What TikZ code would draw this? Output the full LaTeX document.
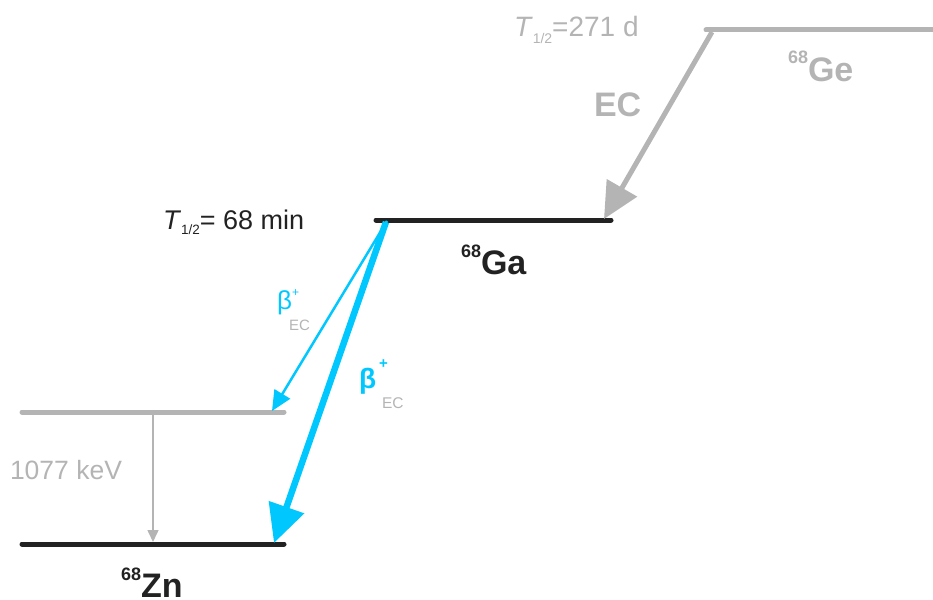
\documentclass[tikz,border=0pt]{standalone}
\usepackage{fontspec}
\usepackage{graphicx}
\setmainfont{Liberation Sans}
\usetikzlibrary{arrows.meta}
\definecolor{lvgray}{RGB}{180,180,180}
\definecolor{lvblack}{RGB}{34,34,34}
\definecolor{cyanb}{RGB}{0,200,255}
\newcommand{\fs}[1]{\fontsize{#1pt}{#1pt}\selectfont}
\newcommand{\halflife}[1]{\textit{T}\raisebox{-0.22em}{\scalebox{0.5}{1/2}}#1}
\newcommand{\iso}[3]{{\fs{#2}\raisebox{#3pt}{#1}}}
\begin{document}
\begin{tikzpicture}[x=1pt,y=-1pt,
  lvl/.style={line width=5pt, line cap=round},
  lbl/.style={anchor=base west, inner sep=0pt, outer sep=0pt}]
\useasboundingbox (0,0) rectangle (933,599);
% level endpoints
\coordinate (geL) at (706,30);  \coordinate (geR) at (936,30);
\coordinate (gaL) at (376,220); \coordinate (gaR) at (611,220);
\coordinate (znxL) at (22,412); \coordinate (znxR) at (284,412);
\coordinate (znL) at (22,544);  \coordinate (znR) at (284,544);
% arrow endpoints
\coordinate (ecS) at (712,32);  \coordinate (ecE) at (604,219);
\coordinate (b1S) at (387,221); \coordinate (b1E) at (272,411);
\coordinate (b2S) at (386,222); \coordinate (b2E) at (274,543);
\coordinate (gS) at (153,413);  \coordinate (gE) at (153,542);
% levels
\draw[lvl, lvgray] (geL) -- (geR);
\draw[lvl, lvblack] (gaL) -- (gaR);
\draw[lvl, lvgray] (znxL) -- (znxR);
\draw[lvl, lvblack] (znL) -- (znR);
% transitions
\draw[lvgray, line width=5pt, -{Triangle[length=36pt,width=34pt]}] (ecS) -- (ecE);
\draw[cyanb, line width=2.5pt, -{Triangle[length=20pt,width=18pt]}] (b1S) -- (b1E);
\draw[cyanb, line width=6.5pt, -{Triangle[length=38pt,width=36pt]}] (b2S) -- (b2E);
\draw[lvgray, line width=1.5pt, -{Triangle[length=12pt,width=11pt]}] (gS) -- (gE);
% labels
\node[lbl, text=lvgray, font=\fs{28}] (hlge) at (514,37) {\halflife{=271 d}};
\node[lbl, text=lvgray, font=\fs{34}\bfseries] (ec) at (594,117) {EC};
\node[lbl, text=lvgray, font=\fs{34}\bfseries] (ge) at (788,82) {\iso{68}{18}{18}Ge};
\node[lbl, text=lvblack, font=\fs{27}] (hlga) at (163,229) {\halflife{= 68 min}};
\node[lbl, text=lvblack, font=\fs{34}\bfseries] (ga) at (461,274) {\iso{68}{18}{17}Ga};
\node[lbl, text=lvblack, font=\fs{34}\bfseries] (zn) at (121,597) {\iso{68}{18}{17}Zn};
\node[lbl, text=lvgray, font=\fs{26.5}] (kev) at (10,479) {1077 keV};
% beta labels
\node[lbl, text=cyanb, font=\fs{26}] (b1) at (277,309) {β};
\node[lbl, text=cyanb, font=\fs{12}] (b1p) at (292,296) {+};
\node[lbl, text=lvgray, font=\fs{15}] (b1ec) at (289,330) {EC};
\node[lbl, text=cyanb, font=\fs{28}\bfseries] (b2) at (359,388) {β};
\node[lbl, text=cyanb, font=\fs{15}\bfseries] (b2p) at (379,368) {+};
\node[lbl, text=lvgray, font=\fs{15.5}] (b2ec) at (382,408) {EC};
\end{tikzpicture}
\end{document}
